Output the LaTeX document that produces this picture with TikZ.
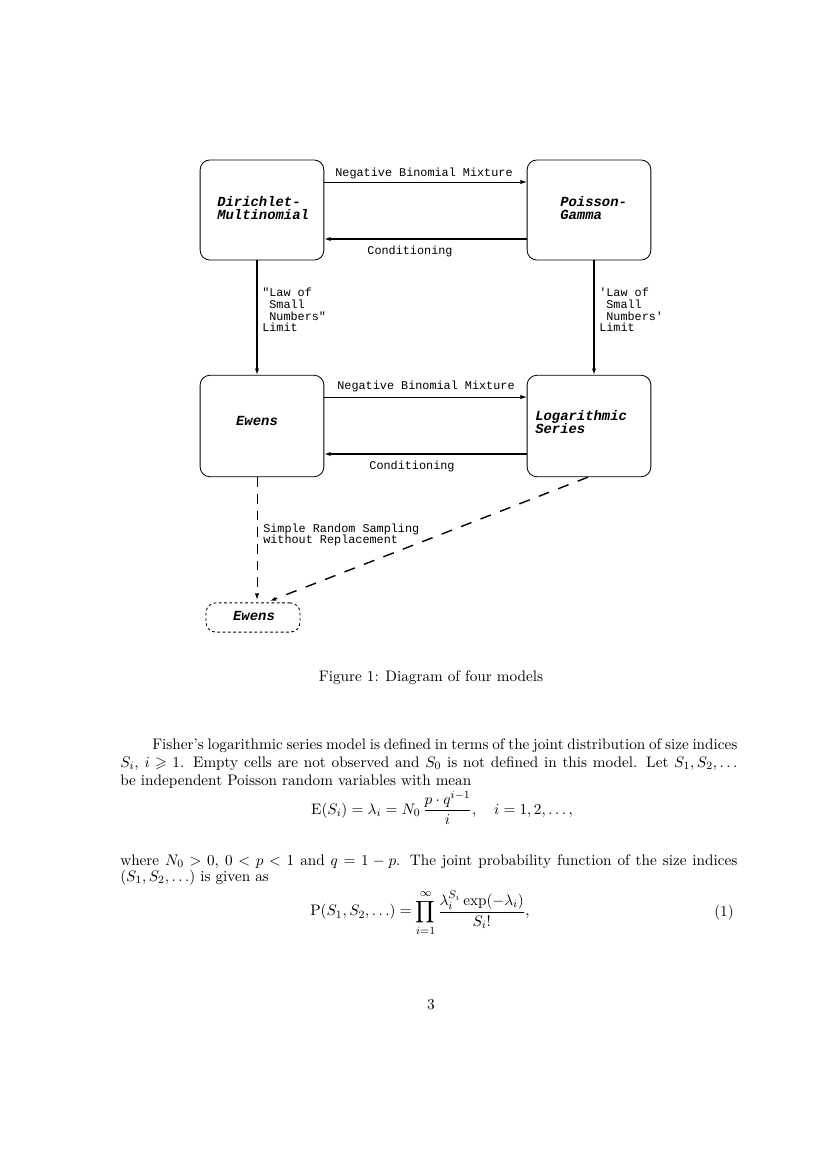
\documentclass[tikz,border=0pt]{standalone}
\usepackage{amsmath,amssymb}
\usepackage{fontspec}
\newfontfamily\cour{Liberation Mono}
\usetikzlibrary{arrows.meta}
\begin{document}
\begin{tikzpicture}[x=0.7195pt,y=-0.7195pt,
  model/.style={draw, line width=0.6pt, rounded corners=7pt, minimum width=89pt, minimum height=72pt, inner sep=0pt},
  title/.style={font=\cour\fontsize{10}{9.5}\selectfont\bfseries\itshape, align=left, inner sep=0pt, anchor=west},
  lab/.style={font=\cour\fontsize{8.5}{8.5}\selectfont, inner sep=0pt, align=left},
  arr/.style={-{Latex[length=4.5pt,width=3pt]}},
  body/.style={font=\fontsize{10.95}{13.6}\selectfont, inner sep=0pt, anchor=base west},
]
\useasboundingbox (0,0) rectangle (827,1170);
\fill[white] (0,0) rectangle (827,1170);

% boxes
\node[model] (DM) at (262,210) {};
\node[model] (PG) at (589,210) {};
\node[model, minimum height=73pt] (EW) at (262,426) {};
\node[model, minimum height=73pt] (LS) at (589,426) {};
\node[draw, line width=0.6pt, dash pattern=on 2pt off 1.8pt, rounded corners=7pt, minimum width=67.6pt, minimum height=21pt, inner sep=0pt] (SE) at (253,617.5) {};

% titles
\node[title] (tDM) at (217,208) {Dirichlet-\\Multinomial};
\node[title] (tPG) at (560,208) {Poisson-\\Gamma};
\node[title, anchor=center] (tEW) at (257,421) {Ewens};
\node[title] (tLS) at (535,422) {Logarithmic\\Series};
\node[title, anchor=center] (tSE) at (254,616) {Ewens};

% helper coordinates
\coordinate (y1) at (0,182);
\coordinate (y2) at (0,239);
\coordinate (y3) at (0,397);
\coordinate (y4) at (0,454);
\coordinate (vl) at (257,0);
\coordinate (vr) at (594,0);
\coordinate (dgs) at (588,0);
\coordinate (dge) at (266,0);

% horizontal connectors
\draw[arr, line width=0.5pt] (DM.east |- y1) -- (PG.west |- y1);
\draw[arr, line width=1pt] (PG.west |- y2) -- (DM.east |- y2);
\draw[arr, line width=0.5pt] (EW.east |- y3) -- (LS.west |- y3);
\draw[arr, line width=1pt] (LS.west |- y4) -- (EW.east |- y4);

% vertical connectors
\draw[arr, line width=0.8pt] (DM.south -| vl) -- (EW.north -| vl);
\draw[arr, line width=0.8pt] (PG.south -| vr) -- (LS.north -| vr);
\draw[arr, line width=0.6pt, dash pattern=on 7pt off 5pt, shorten >=2pt] (EW.south -| vl) -- (SE.north -| vl);
\draw[arr, line width=1pt, dash pattern=on 8pt off 7pt, shorten >=3pt] (LS.south -| dgs) -- (SE.north -| dge);

% labels
\node[lab] (l1) at (424,173) {Negative Binomial Mixture};
\node[lab] (l2) at (410,251) {Conditioning};
\node[lab] (l3) at (426,386) {Negative Binomial Mixture};
\node[lab] (l4) at (412,466) {Conditioning};
\node[lab, anchor=west] (l5) at (262,310) {"Law of\\\phantom{x}Small\\\phantom{x}Numbers"\\Limit};
\node[lab, anchor=west] (l6) at (599,310) {'Law of\\\phantom{x}Small\\\phantom{x}Numbers'\\Limit};
\node[lab, anchor=west] (l7) at (263,535) {Simple Random Sampling\\without Replacement};

% caption
\node[font=\fontsize{10.95}{13.6}\selectfont, inner sep=0pt] (cap) at (431,678) {Figure 1: Diagram of four models};

% body text
\node[body] (b1) at (152,749) {\makebox[421pt][s]{Fisher's logarithmic series model is defined in terms of the joint distribution of size indices}};
\node[body] (b2) at (120,767) {\makebox[444pt][s]{$S_i$, $i \geqslant 1$. Empty cells are not observed and $S_0$ is not defined in this model. Let $S_1, S_2, \ldots$}};
\node[body] (b3) at (120,785) {be independent Poisson random variables with mean};
\node[font=\fontsize{10.95}{13.6}\selectfont, inner sep=0pt] (e1) at (442,808) {$\displaystyle \mathrm{E}(S_i) = \lambda_i = N_0\,\frac{p\cdot q^{i-1}}{i}, \quad i = 1, 2, \ldots,$};
\node[body] (b4) at (120,865) {\makebox[444pt][s]{where $N_0 > 0$, $0 < p < 1$ and $q = 1 - p$. The joint probability function of the size indices}};
\node[body] (b5) at (120,881) {$(S_1, S_2, \ldots)$ is given as};
\node[font=\fontsize{10.95}{13.6}\selectfont, inner sep=0pt] (e2) at (420,913) {$\displaystyle \mathrm{P}(S_1, S_2, \ldots) = \prod_{i=1}^{\infty} \frac{\lambda_i^{S_i}\exp(-\lambda_i)}{S_i!},$};
\node[font=\fontsize{10.95}{13.6}\selectfont, inner sep=0pt] (eq1) at (724,913) {(1)};

% page number
\node[font=\fontsize{10.95}{13.6}\selectfont, inner sep=0pt] (pg) at (431,1005) {3};
\end{tikzpicture}
\end{document}
